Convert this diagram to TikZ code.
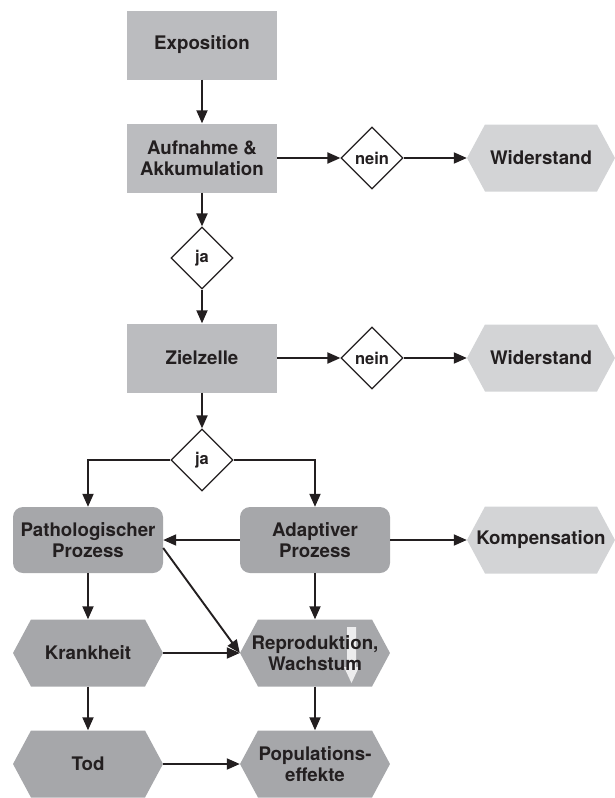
\documentclass[tikz,border=0pt]{standalone}
\usepackage{fontspec}
\setmainfont{TeX Gyre Heros}
\usetikzlibrary{shapes.geometric,arrows.meta}

\definecolor{kastengrau}{HTML}{BBBCBF}
\definecolor{dunkel}{HTML}{A6A7AA}
\definecolor{hell}{HTML}{D3D4D6}
\definecolor{schrift}{HTML}{231F20}

\newcommand{\hexpath}{(path picture bounding box.west) -- ([xshift=18pt]path picture bounding box.north west) -- ([xshift=-18pt]path picture bounding box.north east) -- (path picture bounding box.east) -- ([xshift=-18pt]path picture bounding box.south east) -- ([xshift=18pt]path picture bounding box.south west) -- cycle}

\tikzset{
  every node/.style={text=schrift, font=\fontsize{18.7}{21}\selectfont\bfseries, align=center},
  kasten/.style={fill=kastengrau, minimum width=150pt, minimum height=69pt},
  prozess/.style={fill=dunkel, rounded corners=10pt, minimum width=150pt, minimum height=66pt},
  hexa/.style={minimum width=150pt, minimum height=67pt, path picture={\fill[#1] \hexpath;}},
  frage/.style={diamond, draw=schrift, fill=white, line width=1.2pt, minimum width=62pt, minimum height=62pt, inner sep=0pt, font=\fontsize{16.5}{18}\selectfont\bfseries},
  pfeil/.style={-{Triangle[length=13pt,width=11pt]}, line width=1.9pt, draw=schrift},
}

\begin{document}
\begin{tikzpicture}[x=1pt,y=-1pt]
\useasboundingbox (0,0) rectangle (615,798);

% obere Kette
\node[kasten] (expo) at (202,45) {Exposition};
\node[kasten] (aufn) at (202,158) {Aufnahme \&\\Akkumulation};
\node[frage] (nein1) at (372,158) {nein};
\node[hexa=hell, minimum width=148pt] (wid1) at (541,158) {Widerstand};
\node[frage] (ja1) at (202,258) {ja};
\node[kasten] (ziel) at (202,358) {Zielzelle};
\node[frage] (nein2) at (372,358) {nein};
\node[hexa=hell, minimum width=148pt] (wid2) at (541,358) {Widerstand};
\node[frage] (ja2) at (202,460) {ja};

% Prozesse
\node[prozess] (patho) at (88,540) {Pathologischer\\Prozess};
\node[prozess] (adapt) at (315,540) {Adaptiver\\Prozess};
\node[hexa=hell, minimum width=148pt] (komp) at (541,540) {Kompensation};

% Folgen
\node[hexa=dunkel] (krank) at (88,653) {Krankheit};
\node[hexa=dunkel, path picture={\fill[dunkel] \hexpath;
  \fill[white, opacity=.8] ([xshift=32pt,yshift=26pt]path picture bounding box.center)
    -- ([xshift=41pt,yshift=26pt]path picture bounding box.center)
    -- ([xshift=41pt,yshift=-14pt]path picture bounding box.center)
    -- ([xshift=44pt,yshift=-14pt]path picture bounding box.center)
    -- ([xshift=36.5pt,yshift=-30pt]path picture bounding box.center)
    -- ([xshift=29pt,yshift=-14pt]path picture bounding box.center)
    -- ([xshift=32pt,yshift=-14pt]path picture bounding box.center) -- cycle;}]
  (repro) at (315,653) {Reproduktion,\\Wachstum};
\node[hexa=dunkel] (tod) at (88,764) {Tod};
\node[hexa=dunkel] (popu) at (315,764) {Populations-\\effekte};

% Pfeile
\draw[pfeil] (expo) -- (aufn);
\draw[pfeil] (aufn) -- (nein1);
\draw[pfeil] (nein1) -- (wid1);
\draw[pfeil] (aufn) -- (ja1);
\draw[pfeil] (ja1) -- (ziel);
\draw[pfeil] (ziel) -- (nein2);
\draw[pfeil] (nein2) -- (wid2);
\draw[pfeil] (ziel) -- (ja2);
\draw[pfeil] (ja2) -| (patho);
\draw[pfeil] (ja2) -| (adapt);
\draw[pfeil] (adapt) -- (patho);
\draw[pfeil] (adapt) -- (komp);
\draw[pfeil] (patho) -- (krank);
\draw[pfeil] ([yshift=-8pt]patho.east) -- (repro.west);
\draw[pfeil] (adapt) -- (repro);
\draw[pfeil] (krank) -- (repro);
\draw[pfeil] (krank) -- (tod);
\draw[pfeil] (repro) -- (popu);
\draw[pfeil] (tod) -- (popu);

\end{tikzpicture}
\end{document}
